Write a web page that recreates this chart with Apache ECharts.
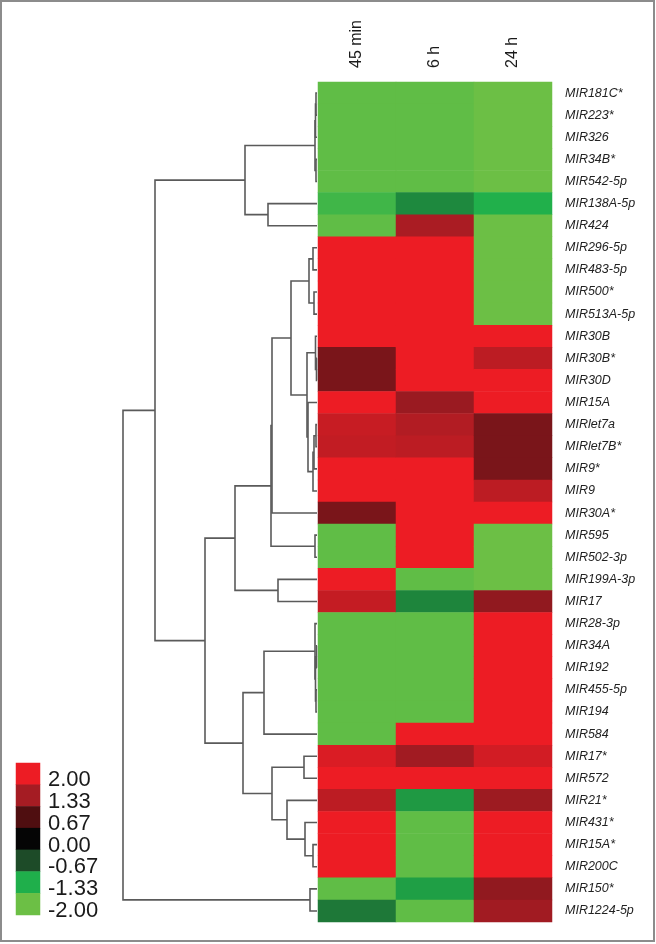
<!DOCTYPE html>
<html><head><meta charset="utf-8">
<script src="https://cdn.jsdelivr.net/npm/echarts@6/dist/echarts.min.js"></script>
<style>html,body{margin:0;padding:0;background:#fff}#c{width:656px;height:944px}</style>
</head><body><div id="c"></div>
<script>
const conditions = ['45 min', '6 h', '24 h'];
const genes = ['MIR181C*','MIR223*','MIR326','MIR34B*','MIR542-5p','MIR138A-5p','MIR424','MIR296-5p','MIR483-5p','MIR500*','MIR513A-5p','MIR30B','MIR30B*','MIR30D','MIR15A','MIRlet7a','MIRlet7B*','MIR9*','MIR9','MIR30A*','MIR595','MIR502-3p','MIR199A-3p','MIR17','MIR28-3p','MIR34A','MIR192','MIR455-5p','MIR194','MIR584','MIR17*','MIR572','MIR21*','MIR431*','MIR15A*','MIR200C','MIR150*','MIR1224-5p'];
const v45min = [-1.9,-1.9,-1.9,-1.9,-1.9,-1.62,-1.9,2,2,2,2,2,1.0,1.0,2,1.65,1.6,2,2,1.0,-1.9,-1.9,2,1.62,-1.9,-1.9,-1.9,-1.9,-1.9,-1.9,1.82,2,1.55,2,2,2,-1.9,-0.97];
const v6h   = [-1.9,-1.9,-1.9,-1.9,-1.9,-1.08,1.38,2,2,2,2,2,2,2,1.25,1.45,1.55,2,2,2,2,2,-1.9,-1.05,-1.9,-1.9,-1.9,-1.9,-1.9,2,1.3,2,-1.18,-1.9,-1.9,-1.9,-1.22,-1.9];
const v24h  = [-2,-2,-2,-2,-2,-1.35,-2,-2,-2,-2,-2,2,1.55,2,2,1.0,1.0,1.0,1.55,2,-2,-2,-2,1.18,2,2,2,2,2,2,1.75,2,1.27,2,2,2,1.18,1.3];
const legendLabels = ['2.00','1.33','0.67','0.00','-0.67','-1.33','-2.00'];
const legendValues = [2, 1.33, 0.67, 0, -0.67, -1.33, -2];
const scaleColors = ['#6cbf45','#1fb04b','#1d4a28','#050505','#4f0e10','#a51c23','#ed1c24'];
// dendrogram merges: [childA, childB, height]; leaves are 0..37, new nodes get ids 38, 39, ...
const merges = [
  [0,1,1],[38,2,1.5],[3,4,1],[39,40,2],[5,6,49],[41,42,72],
  [7,8,4],[9,10,3],[44,45,8],[12,13,0.5],[11,47,1.5],[15,16,1],[49,17,3],[50,18,4],[14,51,9],[48,52,10],[46,53,26],[54,19,45],[20,21,2],[55,56,46],[22,23,39],[57,58,82],
  [25,26,0.5],[27,28,1],[60,61,1.5],[24,62,2],[63,29,53],[30,31,13],[34,35,4],[33,66,12],[32,67,30],[65,68,45],[64,69,74],[59,70,112],[43,71,162],[36,37,7],[72,73,194]
];

const heatData = [];
[v45min, v6h, v24h].forEach((arr, ci) => arr.forEach((v, ri) => heatData.push([ci, ri, v])));
const legendData = legendValues.map((v, i) => [0, i, v]);

const nodeY = genes.map((g, i) => i);
const nodeH = genes.map(() => 0);
const dendroData = [];
merges.forEach(([a, b, h]) => {
  nodeY.push((nodeY[a] + nodeY[b]) / 2);
  nodeH.push(h);
  dendroData.push([h, nodeY[a], nodeH[a], nodeY[b], nodeH[b]]);
});

const chart = echarts.init(document.getElementById('c'), null, {renderer: 'canvas'});
chart.setOption({
  animation: false,
  backgroundColor: '#fff',
  textStyle: {fontFamily: 'Liberation Sans, Arial, sans-serif'},
  graphic: [{type: 'rect', shape: {x: 1, y: 1, width: 653, height: 940}, style: {fill: null, stroke: '#8c8c8c', lineWidth: 2}, silent: true, z: 100}],
  grid: [
    {left: 318, top: 82, width: 234, height: 840},
    {left: 117, top: 82, width: 200, height: 840},
    {left: 16, top: 763, width: 24, height: 152}
  ],
  xAxis: [
    {gridIndex: 0, type: 'category', data: conditions, position: 'top',
     axisLine: {show: false}, axisTick: {show: false},
     axisLabel: {rotate: -90, fontSize: 16, color: '#1a1a1a', margin: 14, interval: 0}},
    {gridIndex: 1, type: 'value', min: 0, max: 200, inverse: true, show: false},
    {gridIndex: 2, type: 'category', data: [''], show: false}
  ],
  yAxis: [
    {gridIndex: 0, type: 'category', data: genes, inverse: true, position: 'right',
     axisLine: {show: false}, axisTick: {show: false},
     axisLabel: {fontSize: 12.5, fontStyle: 'italic', color: '#222', margin: 13, interval: 0}},
    {gridIndex: 1, type: 'value', min: -0.5, max: 37.5, inverse: true, show: false},
    {gridIndex: 2, type: 'category', data: legendLabels, inverse: true, position: 'right',
     axisLine: {show: false}, axisTick: {show: false},
     axisLabel: {fontSize: 22, color: '#1a1a1a', margin: 8, verticalAlign: 'top', lineHeight: 13, interval: 0, hideOverlap: false}}
  ],
  visualMap: {type: 'continuous', show: false, min: -2, max: 2, seriesIndex: [0, 2], inRange: {color: scaleColors}},
  series: [
    {type: 'heatmap', xAxisIndex: 0, yAxisIndex: 0, data: heatData, emphasis: {disabled: true}, itemStyle: {borderWidth: 0}},
    {type: 'custom', xAxisIndex: 1, yAxisIndex: 1, data: dendroData, silent: true,
     renderItem: function (params, api) {
       const hN = api.value(0), yA = api.value(1), hA = api.value(2), yB = api.value(3), hB = api.value(4);
       return {type: 'polyline', shape: {points: [api.coord([hA, yA]), api.coord([hN, yA]), api.coord([hN, yB]), api.coord([hB, yB])]},
               style: {stroke: '#5a5a5a', lineWidth: 1.6, fill: null}};
     }},
    {type: 'heatmap', xAxisIndex: 2, yAxisIndex: 2, data: legendData, emphasis: {disabled: true}, silent: true}
  ]
});
</script></body></html>
